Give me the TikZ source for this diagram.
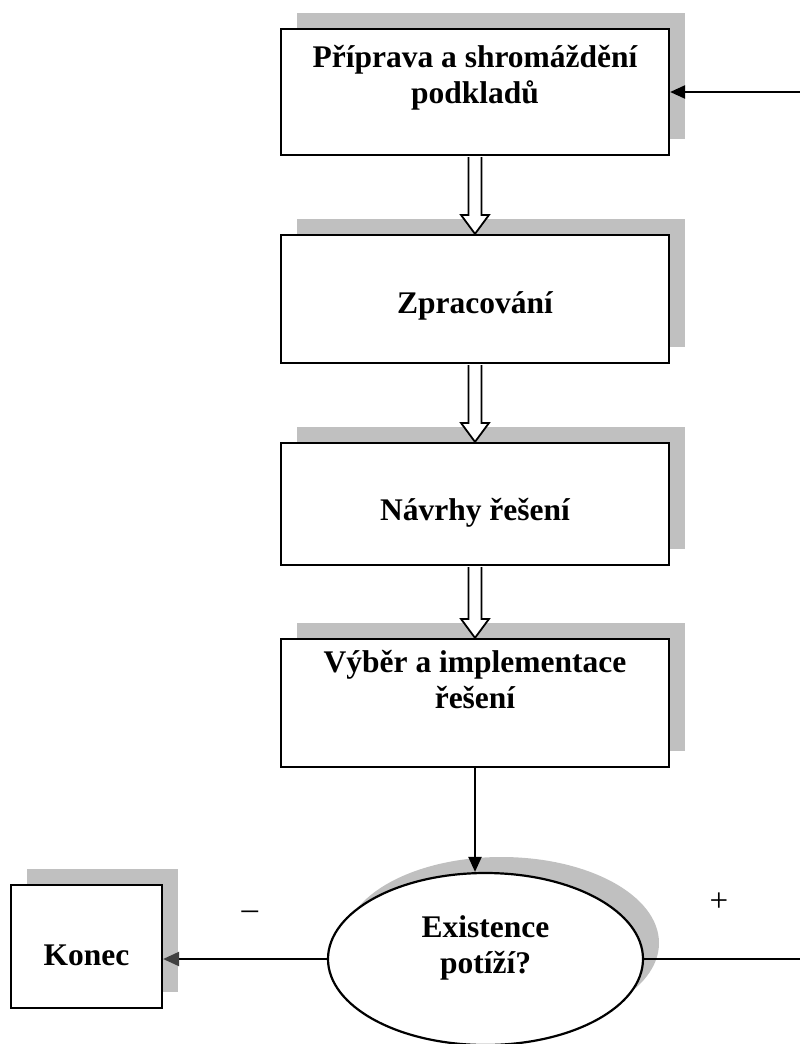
\documentclass[tikz,border=0pt]{standalone}
\usepackage{fontspec}
\setmainfont{Liberation Serif}
\usepackage{tikz}
\usetikzlibrary{shapes.geometric,shadows,calc,arrows.meta}
\definecolor{shadowgray}{HTML}{C0C0C0}
\definecolor{tipgray}{HTML}{404040}
\tikzset{
  shade box/.style={drop shadow={shadow xshift=16pt,shadow yshift=16pt,fill=shadowgray,opacity=1}},
  box/.style={draw,fill=white,line width=2.2pt,minimum width=388pt,inner sep=0pt,align=center,
    font=\fontsize{31.5}{36}\selectfont\bfseries,shade box},
  ell/.style={ellipse,draw,fill=white,line width=2.2pt,minimum width=315pt,minimum height=172pt,
    inner sep=0pt,align=center,font=\fontsize{31.5}{36}\selectfont\bfseries,shade box},
  hollow/.style={draw,fill=white,line width=1.8pt},
  arr/.style={line width=2.2pt,-{Triangle[length=15pt,width=13pt]}},
  sign/.style={font=\fontsize{33}{36}\selectfont},
}
\begin{document}
\begin{tikzpicture}[x=1pt,y=-1pt]
  \path[use as bounding box,clip] (0,0) rectangle (800,1044);
  \node[box,text height=74pt,text depth=52pt] (prep) at (475,92) {Příprava a shromáždění\\podkladů};
  \node[box,text height=78pt,text depth=50pt] (zprac) at (475,299) {Zpracování};
  \node[box,text height=77pt,text depth=45pt] (navrh) at (475,504) {Návrhy řešení};
  \node[box,text height=69pt,text depth=59pt] (vyber) at (475,703) {Výběr a implementace\\řešení};
  \node[ell,text height=56pt,text depth=28pt] (exist) at (485.5,959) {Existence\\potíží?};
  \node[box,minimum width=151pt,text height=80pt,text depth=43pt] (konec) at (86.5,946.5) {Konec};
  \foreach \a/\b in {prep/zprac,zprac/navrh,navrh/vyber}
    \draw[hollow] ($(\a.south)+(-6.5,1)$) -- ($(\b.north)+(-6.5,-19)$) -- ($(\b.north)+(-14,-19)$)
      -- (\b.north) -- ($(\b.north)+(14,-19)$) -- ($(\b.north)+(6.5,-19)$) -- ($(\a.south)+(6.5,1)$);
  \draw[arr] (vyber.south) -- (vyber.south |- exist.north);
  \draw[line width=2.2pt,-{Triangle[length=16pt,width=14pt,color=tipgray]}] (exist.west) -- (exist.west -| konec.east)
    node[sign,pos=0.47,yshift=44pt] {–};
  \draw[arr] (exist.east) -- ++(170,0) node[sign,pos=0.44,yshift=57pt] {+} |- (prep.east);
\end{tikzpicture}
\end{document}
